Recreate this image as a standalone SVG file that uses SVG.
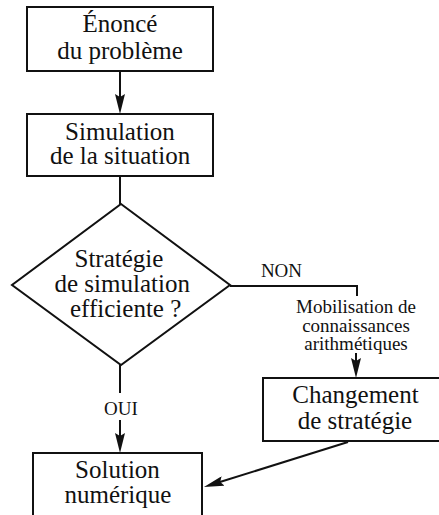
<svg xmlns="http://www.w3.org/2000/svg" width="439" height="515" viewBox="0 0 439 515">
  <defs>
    <marker id="arr" viewBox="0 0 20 10" refX="10" refY="5" markerWidth="20" markerHeight="10" markerUnits="userSpaceOnUse" orient="auto">
      <path d="M0,0 L20,5 L0,10 L3,5 z" fill="#111"/>
    </marker>
  </defs>
  <rect width="439" height="515" fill="#fff"/>

  <g id="connectors" fill="none" stroke="#111" stroke-width="2">
    <line x1="120" y1="71" x2="120" y2="104" marker-end="url(#arr)"/>
    <line x1="120" y1="176" x2="120" y2="204"/>
    <path d="M230,286 H357 V296"/>
    <line x1="356" y1="353" x2="356" y2="368" marker-end="url(#arr)"/>
    <line x1="120" y1="365" x2="120" y2="393"/>
    <line x1="120" y1="420" x2="120" y2="443" marker-end="url(#arr)"/>
    <line x1="348" y1="442" x2="213.5" y2="484" marker-end="url(#arr)"/>
  </g>

  <g id="connector-labels">
    <text x="260.9" y="277" font-family="Liberation Serif" font-size="19" fill="#111">NON</text>
    <text x="296.1" y="313" font-family="Liberation Serif" font-size="19" fill="#111">Mobilisation de</text>
    <text x="302.2" y="331.5" font-family="Liberation Serif" font-size="19" fill="#111">connaissances</text>
    <text x="304.3" y="350" font-family="Liberation Serif" font-size="19" fill="#111">arithmétiques</text>
    <text x="104.1" y="415" font-family="Liberation Serif" font-size="19" fill="#111">OUI</text>
  </g>

  <g id="enonce">
    <rect x="27" y="7" width="186" height="64" fill="#fff" stroke="#111" stroke-width="2"/>
    <text x="82.5" y="32" font-family="Liberation Serif" font-size="25" fill="#111">Énoncé</text>
    <text x="57.2" y="59" font-family="Liberation Serif" font-size="25" fill="#111">du problème</text>
  </g>

  <g id="simulation">
    <rect x="27" y="114" width="186" height="62" fill="#fff" stroke="#111" stroke-width="2"/>
    <text x="65.1" y="140" font-family="Liberation Serif" font-size="25" fill="#111">Simulation</text>
    <text x="49.9" y="164" font-family="Liberation Serif" font-size="25" fill="#111">de la situation</text>
  </g>

  <g id="decision">
    <polygon points="121,204 230,285 121,365 12,285" fill="#fff" stroke="#111" stroke-width="2"/>
    <text x="74.5" y="267" font-family="Liberation Serif" font-size="25" fill="#111">Stratégie</text>
    <text x="54.5" y="292" font-family="Liberation Serif" font-size="25" fill="#111">de simulation</text>
    <text x="70" y="317" font-family="Liberation Serif" font-size="25" fill="#111">efficiente ?</text>
  </g>

  <g id="changement">
    <rect x="263" y="378" width="190" height="63" fill="#fff" stroke="#111" stroke-width="2"/>
    <text x="292.3" y="403" font-family="Liberation Serif" font-size="25" fill="#111">Changement</text>
    <text x="297.7" y="429" font-family="Liberation Serif" font-size="25" fill="#111">de stratégie</text>
  </g>

  <g id="solution">
    <rect x="33" y="453" width="169" height="80" fill="#fff" stroke="#111" stroke-width="2"/>
    <text x="75.1" y="478" font-family="Liberation Serif" font-size="25" fill="#111">Solution</text>
    <text x="64.5" y="503" font-family="Liberation Serif" font-size="25" fill="#111">numérique</text>
  </g>
</svg>
